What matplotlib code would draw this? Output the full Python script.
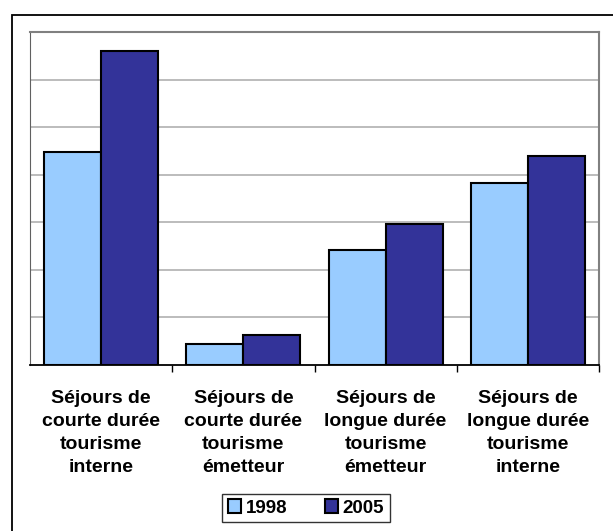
import matplotlib.pyplot as plt
import numpy as np
from matplotlib.patches import Rectangle

# values (y axis has no labels, 7 gridline units)
categories = ['Séjours de\ncourte durée\ntourisme\ninterne',
              'Séjours de\ncourte durée\ntourisme\németteur',
              'Séjours de\nlongue durée\ntourisme\németteur',
              'Séjours de\nlongue durée\ntourisme\ninterne']
v1998 = [4.47, 0.44, 2.42, 3.82]
v2005 = [6.6, 0.63, 2.96, 4.39]

plt.rcParams['font.family'] = ['Liberation Sans', 'DejaVu Sans']

W, H = 613, 531
fig = plt.figure(figsize=(W / 100, H / 100), dpi=100)

# outer chart frame (cut off at right and bottom)
fig.patches.append(Rectangle((12 / W, -0.1), 1.2, 1.1 - 15 / H, transform=fig.transFigure,
                             fill=False, edgecolor='black', linewidth=1.3))

ax = fig.add_axes([30 / W, 1 - 365 / H, (599 - 30) / W, (365 - 32) / H])

x = np.arange(len(categories))
w = 0.4
ax.bar(x - w / 2, v1998, w, color='#99CCFF', edgecolor='black', linewidth=1.5, label='1998', zorder=3)
ax.bar(x + w / 2, v2005, w, color='#333399', edgecolor='black', linewidth=1.5, label='2005', zorder=3)

ax.set_xlim(-0.5, 3.5)
ax.set_ylim(0, 7)
ax.set_yticks(range(1, 7))
ax.yaxis.grid(True, color='#b0b0b0', linewidth=1.2)
ax.tick_params(axis='y', left=False, labelleft=False)

ax.set_xticks([0.5, 1.5, 2.5, 3.5], minor=False)
ax.set_xticks(x, minor=True)
ax.set_xticklabels(categories, minor=True, fontsize=14, fontweight='bold', linespacing=1.45)
ax.tick_params(axis='x', which='major', direction='out', length=5, labelbottom=False, width=1)
ax.tick_params(axis='x', which='minor', length=0, pad=18)

for s in ['top', 'right']:
    ax.spines[s].set_color('#808080')
    ax.spines[s].set_linewidth(1.5)
ax.spines['left'].set_color('#606060')
ax.spines['bottom'].set_color('black')
ax.spines['bottom'].set_linewidth(1.3)

leg = ax.legend(loc='center', bbox_to_anchor=(306 / W, 1 - 508 / H), bbox_transform=fig.transFigure,
                ncol=2, frameon=True, fancybox=False, edgecolor='black',
                prop={'weight': 'bold', 'size': 13.5}, handlelength=0.7, handleheight=0.7,
                handletextpad=0.25, columnspacing=2.0, borderpad=0.3)
leg.get_frame().set_linewidth(1)

fig.savefig('out.png', dpi=100)
